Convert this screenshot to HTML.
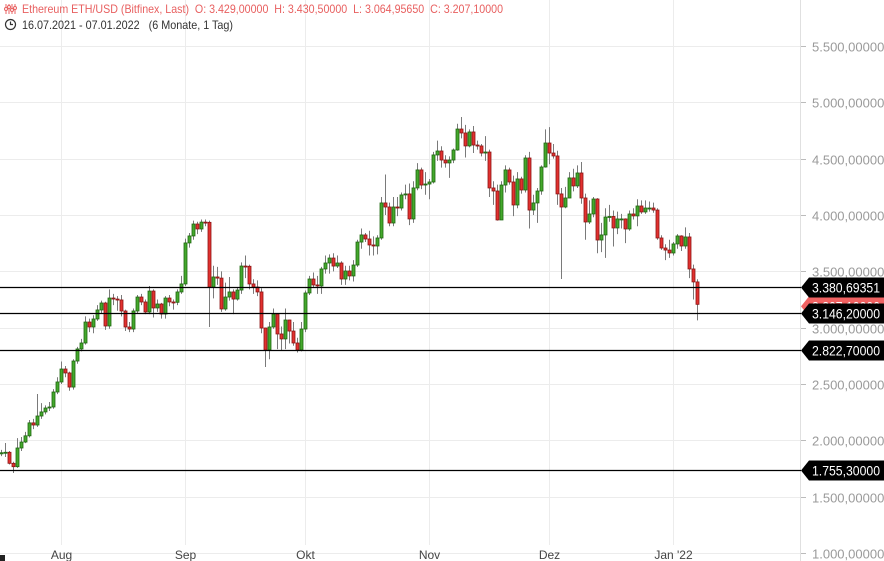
<!DOCTYPE html>
<html><head><meta charset="utf-8"><style>
body{margin:0;background:#fff;}
#wrap{position:relative;width:884px;height:561px;overflow:hidden;font-family:"Liberation Sans",sans-serif;}
svg text{font-family:"Liberation Sans",sans-serif;white-space:pre;}
</style></head><body>
<div id="wrap">
<svg id="chart" width="884" height="561">
<g id="grid"></g>
<g id="candles"></g>
<g id="yaxis"></g>
<g id="lastTag"></g>
<g id="levels"></g>
<g id="xaxis"></g>
<rect x="0" y="555" width="5" height="6" fill="#222"/>
<g>
<g stroke="#e86060" stroke-width="1" fill="none">
<path d="M6 4v10M9 4v10M12 4v10M15 4v10"/><circle cx="6" cy="9" r="1.5" fill="#fff"/><circle cx="9" cy="7" r="1.5" fill="#fff"/><circle cx="12" cy="10" r="1.5" fill="#fff"/><circle cx="15" cy="8" r="1.5" fill="#fff"/>
</g>
<text x="22" y="13" font-size="12" fill="#e86060" textLength="481" lengthAdjust="spacingAndGlyphs">Ethereum ETH/USD (Bitfinex, Last)  O: 3.429,00000  H: 3.430,50000  L: 3.064,95650  C: 3.207,10000</text>
<g stroke="#333" stroke-width="1.2" fill="none"><circle cx="10.5" cy="24.5" r="5"/><path d="M10.5 21.5v3h2.5"/></g>
<text x="22" y="29" font-size="12" fill="#333" textLength="211" lengthAdjust="spacingAndGlyphs">16.07.2021 - 07.01.2022   (6 Monate, 1 Tag)</text>
</g>
</svg>
</div>
<script>
const firstOpen = 1880;
const closes = [1890,1894,1796,1766,1932,1985,2040,2155,2136,2216,2252,2287,2296,2429,2518,2633,2598,2473,2704,2811,2864,3050,3006,3077,3157,3219,3015,3263,3254,3246,3148,3006,2988,3148,3272,3228,3139,3325,3175,3210,3121,3263,3228,3225,3317,3388,3752,3814,3920,3876,3937,3935,3361,3450,3440,3166,3272,3317,3254,3334,3547,3545,3388,3361,3317,2997,2802,3006,3121,2944,2900,3068,2970,2864,2802,2988,3308,3432,3379,3370,
3521,3574,3618,3547,3574,3432,3503,3459,3556,3760,3823,3787,3734,3725,3796,4107,4071,3929,4071,4062,4178,4187,3965,4240,4400,4266,4275,4293,4533,4568,4488,4462,4488,4577,4763,4728,4613,4737,4621,4613,4550,4559,4240,4213,3956,4266,4400,4293,4089,4320,4222,4506,4044,4107,4213,4426,4639,4550,4524,4187,4071,
4151,4329,4258,4373,4151,3938,4009,4142,3778,3823,3982,3987,3885,3965,3965,3876,4009,3992,4080,4027,4062,4062,4044,3796,3707,3689,3663,3743,3814,3725,3805,3521,3406,3207];
const highs = [1915,1976,1905,1810,2020,2030,2075,2180,2190,2411,2330,2310,2340,2455,2560,2700,2660,2610,2720,2830,2900,3100,3080,3110,3200,3240,3230,3340,3300,3280,3290,3160,3050,3170,3290,3300,3250,3370,3340,3250,3220,3280,3290,3250,3340,3460,3790,3840,3950,3940,3960,3960,3950,3550,3540,3500,3400,3450,3340,3360,3580,3640,3560,3430,3420,3350,3000,3050,3170,3130,3010,3170,3070,3050,2910,3050,3330,3460,3490,3460,
3540,3640,3650,3660,3640,3590,3550,3550,3600,3780,3880,3840,3860,3810,3820,4160,4360,4110,4160,4160,4200,4270,4280,4300,4460,4420,4380,4320,4560,4660,4610,4530,4520,4590,4810,4870,4800,4760,4790,4660,4630,4700,4580,4300,4270,4300,4440,4420,4350,4380,4340,4530,4560,4180,4240,4440,4760,4780,4630,4570,4240,
4250,4380,4410,4440,4470,4190,4130,4160,4150,3930,4060,4090,4040,4030,4010,3970,4040,4060,4140,4130,4130,4120,4110,4060,3820,3740,3780,3760,3830,3820,3890,3840,3560,3430];
const lows = [1860,1852,1785,1710,1755,1905,1975,2025,2100,2120,2190,2230,2260,2280,2410,2500,2560,2440,2450,2680,2790,2850,2960,2950,3060,3130,2980,2990,3200,3150,3100,2970,2960,2960,3130,3200,3120,3120,3090,3140,3080,3080,3190,3160,3200,3300,3370,3710,3780,3830,3850,3900,3006,3260,3380,3140,3150,3240,3120,3240,3300,3440,3340,3300,3280,2950,2651,2720,2990,2810,2800,2810,2860,2840,2780,2790,2960,3290,3360,3300,
3300,3480,3480,3500,3530,3380,3380,3420,3410,3540,3700,3760,3640,3640,3650,3780,4000,3900,3900,3990,4040,4140,3910,3930,4220,4230,4180,4140,4280,4480,4420,4420,4330,4460,4570,4680,4510,4600,4550,4580,4520,4480,4160,4090,3950,3960,4200,4270,3990,4060,4190,4200,3880,4000,3930,4180,4420,4450,4500,4090,3432,
4060,4150,4210,4240,4100,3780,3920,3980,3660,3670,3620,3940,3720,3830,3880,3750,3860,3960,3900,4010,4010,4030,4020,3780,3690,3600,3620,3640,3700,3680,3700,3440,3250,3065];
const levelValues = [3380.69351, 3146.2, 2822.7, 1755.3];
const levelLabels = ["3.380,69351","3.146,20000","2.822,70000","1.755,30000"];
const lastPrice = 3207.1;
const lastPriceLabel = "3.207,10000";
const yTicks = [1000,1500,2000,2500,3000,3500,4000,4500,5000,5500];
const yTickLabels = ["1.000,00000","1.500,00000","2.000,00000","2.500,00000","3.000,00000","3.500,00000","4.000,00000","4.500,00000","5.000,00000","5.500,00000"];
const xTickIdx = [15,46,76,107,137,168];
const xTickLabels = ["Aug","Sep","Okt","Nov","Dez","Jan '22"];

const NS="http://www.w3.org/2000/svg";
const yScale = v => 553 - (v-1000)*(507/4500);
const xScale = i => 1.3 + i*3.997;
const levelOffset = 2;
function mk(tag, attrs, parent){const e=document.createElementNS(NS,tag);for(const k in attrs)e.setAttribute(k,attrs[k]);parent.appendChild(e);return e;}
const grid=document.getElementById('grid'),cg=document.getElementById('candles'),lv=document.getElementById('levels'),ya=document.getElementById('yaxis'),xa=document.getElementById('xaxis'),lt=document.getElementById('lastTag');

yTicks.forEach((t,k)=>{
  const y=Math.round(yScale(t))+0.5;
  const gl=mk('line',{x1:0,x2:800,y1:y,y2:y,stroke:'#ececec','stroke-width':1},grid);
  
  
  const tk=mk('line',{x1:801,x2:806,y1:y,y2:y,stroke:'#bbb','stroke-width':1},ya);
  
  
  const tx=mk('text',{x:812,y:y+5,'font-size':13,fill:'#9a9a9a'},ya);
  tx.textContent=yTickLabels[k];
  
  
});
xTickIdx.forEach((i,k)=>{
  const x=Math.round(xScale(i))+0.5;
  const gl=mk('line',{x1:x,x2:x,y1:0,y2:545,stroke:'#ececec','stroke-width':1},grid);
  
  
  const tx=mk('text',{x:x,y:559,'font-size':12,fill:'#444','text-anchor':'middle'},xa);
  tx.textContent=xTickLabels[k];
  
  
});
const sep=mk('line',{x1:800.5,x2:800.5,y1:0,y2:561,stroke:'#e0e0e0','stroke-width':1},ya);



const n=Math.min(closes.length,highs.length,lows.length);
for(let i=0;i<n;i++){
  const o=i===0?firstOpen:closes[i-1], c=closes[i];
  const x=Math.round(xScale(i));
  const up=c>=o;
  const g=mk('g',{},cg);
  
  
  mk('line',{x1:x+0.5,x2:x+0.5,y1:yScale(highs[i]),y2:yScale(lows[i]),stroke:'#7a7a7a','stroke-width':1},g);
  const yt=yScale(Math.max(o,c)), yb=yScale(Math.min(o,c));
  mk('rect',{x:x-1,y:yt,width:3,height:Math.max(1,yb-yt),fill:up?'#44a82c':'#e2312f',stroke:up?'#1e6610':'#8c1414','stroke-width':0.8},g);
}

{
  const y=yScale(lastPrice)+levelOffset;
  const g=mk('g',{},lt);
  
  
  mk('path',{d:`M801 ${y} L809 ${y-10} L884 ${y-10} L884 ${y+10} L809 ${y+10} Z`,fill:'#f06262'},g);
  const t=mk('text',{x:812,y:y+5,'font-size':14,fill:'#fff',textLength:68,lengthAdjust:'spacingAndGlyphs'},g);
  t.textContent=lastPriceLabel;
}
levelValues.forEach((v,k)=>{
  const y=Math.round(yScale(v)+levelOffset)+0.5;
  const l=mk('line',{x1:0,x2:801,y1:y,y2:y,stroke:'#000','stroke-width':1.2},lv);
  
  
  const g=mk('g',{},lv);
  
  
  mk('path',{d:`M801 ${y} L809 ${y-10} L884 ${y-10} L884 ${y+10} L809 ${y+10} Z`,fill:'#000'},g);
  const t=mk('text',{x:812,y:y+5,'font-size':14,fill:'#fff',textLength:68,lengthAdjust:'spacingAndGlyphs'},g);
  t.textContent=levelLabels[k];
});
</script>
</body></html>
